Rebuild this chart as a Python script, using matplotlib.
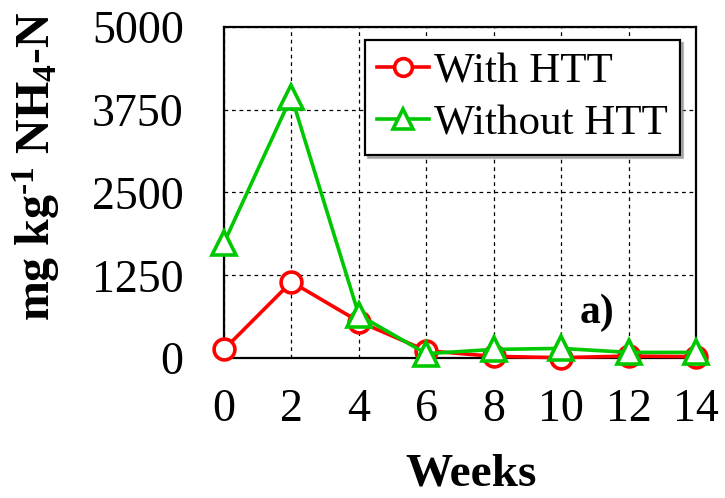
import matplotlib
matplotlib.use("Agg")
import matplotlib.pyplot as plt

# Weekly NH4-N concentration, mg/kg
weeks = [0, 2, 4, 6, 8, 10, 12, 14]
with_htt = [130, 1150, 550, 110, 25, 5, 30, 20]
without_htt = [1740, 3950, 650, 65, 130, 145, 85, 85]
y_ticks = [0, 1250, 2500, 3750, 5000]
x_ticks = [0, 2, 4, 6, 8, 10, 12, 14]

plt.rcParams["font.family"] = ["Liberation Serif", "DejaVu Serif"]
plt.rcParams["mathtext.fontset"] = "custom"
plt.rcParams["mathtext.rm"] = "Liberation Serif:bold"
plt.rcParams["mathtext.bf"] = "Liberation Serif:bold"
plt.rcParams["mathtext.it"] = "Liberation Serif:italic"

fig = plt.figure(figsize=(7.25, 4.98), dpi=100)
ax = fig.add_axes([224 / 725, 1 - 358 / 498, 472 / 725, 331 / 498])

ax.plot(weeks, with_htt, color="#FF0000", lw=2.6, marker="o", ms=15,
        mfc="white", mec="#FF0000", mew=2.6, clip_on=False, zorder=3,
        label="With HTT")
ax.plot(weeks, without_htt, color="#00C800", lw=2.6, marker="^", ms=17,
        mfc="white", mec="#00C800", mew=2.6, clip_on=False, zorder=4,
        label="Without HTT")

ax.set_xlim(0, 14)
ax.set_ylim(0, 5000)
ax.set_xticks(x_ticks)
ax.set_yticks(y_ticks)
ax.tick_params(axis="both", length=0, labelsize=33)
ax.tick_params(axis="y", pad=29)
ax.tick_params(axis="x", pad=22)
ax.grid(True, color="black", lw=0.9, ls=(0, (3, 3)))
for s in ax.spines.values():
    s.set_linewidth(1.6)
    s.set_color("black")
    s.set_zorder(2.5)

fig.text(36 / 725, 1 - 166 / 498,
         r"mg kg$^{\text{-1}}$ NH$_{\text{4}}$-N",
         rotation=90, ha="center", va="center", fontsize=34.5,
         fontweight="bold")
fig.text(471 / 725, 1 - 474 / 498, "Weeks", ha="center", va="center",
         fontsize=34, fontweight="bold")

ax.text(11.05, 680, "a)", ha="center", va="center", fontsize=30,
        fontweight="bold")

leg = ax.legend(loc="upper right", bbox_to_anchor=(0.966, 0.961),
                borderaxespad=0, fontsize=31, handlelength=1.2,
                handletextpad=0.12, labelspacing=0.3, borderpad=0.28,
                markerscale=0.85, fancybox=False, framealpha=1,
                edgecolor="black",
                shadow={"color": "0.55", "alpha": 0.6})
leg.get_frame().set_linewidth(1.6)

fig.savefig("out.png", dpi=100)
